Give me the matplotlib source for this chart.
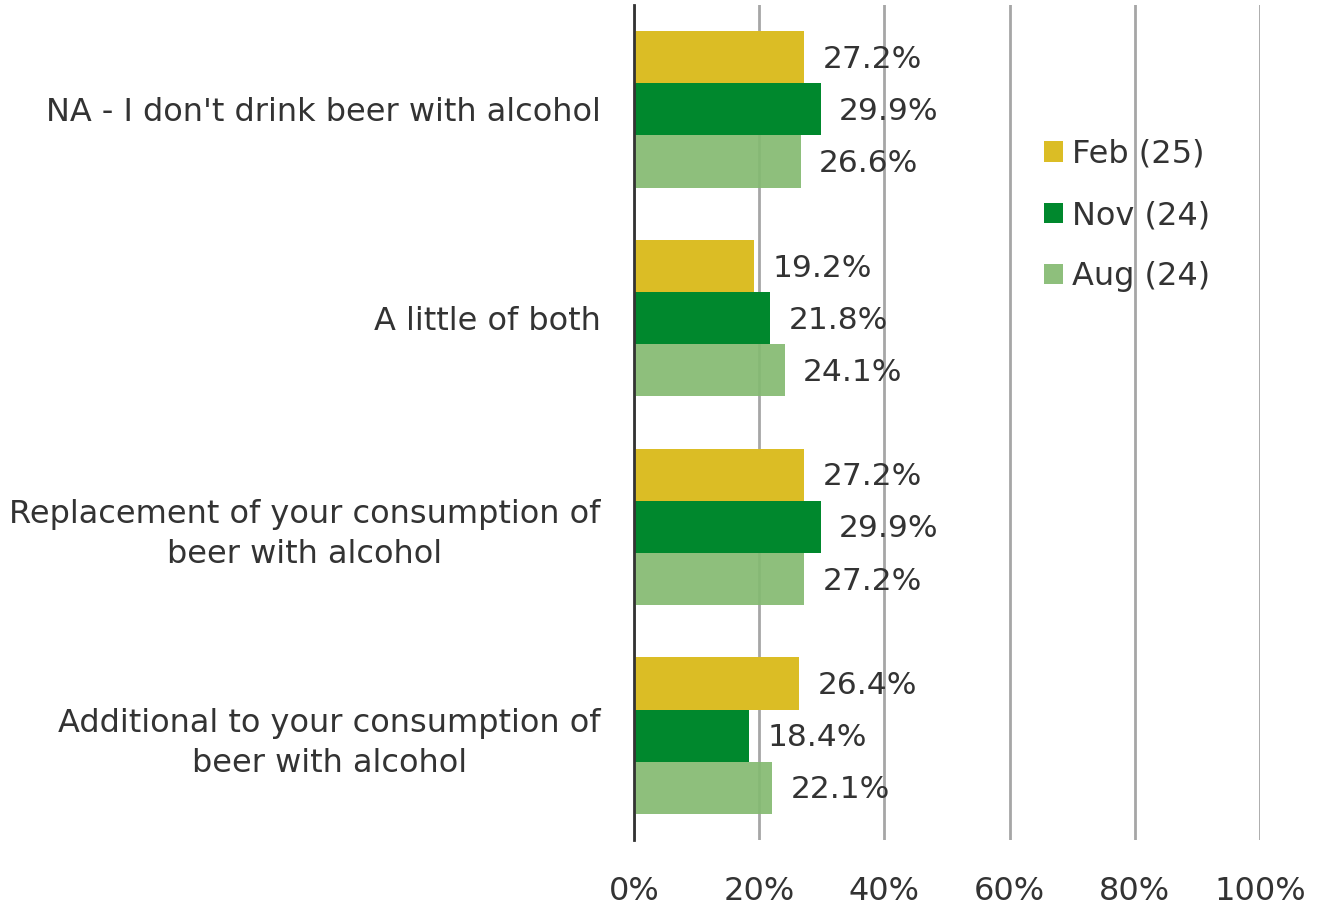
import matplotlib
matplotlib.use("Agg")
import matplotlib.pyplot as plt
import numpy as np

categories = ["NA - I don't drink beer with alcohol",
              "A little of both",
              "Replacement of your consumption of\nbeer with alcohol",
              "Additional to your consumption of\nbeer with alcohol"]
series_names = ["Feb (25)", "Nov (24)", "Aug (24)"]
feb = [27.2, 19.2, 27.2, 26.4]
nov = [29.9, 21.8, 29.9, 18.4]
aug = [26.6, 24.1, 27.2, 22.1]
xticks = [0, 20, 40, 60, 80, 100]
xtick_labels = ["0%", "20%", "40%", "60%", "80%", "100%"]

colors = ["#DBBD25", "#00882D", "#84BA71"]
alphas = [1.0, 1.0, 0.92]
text_color = "#333333"

plt.rcParams['font.family'] = ['DejaVu Sans']
fig = plt.figure(figsize=(13.21, 9.09), dpi=100)
ax = fig.add_axes([634/1321, 1-840/909, (1260-634)/1321, (840-5)/909])

n = len(categories)
y = np.arange(n)
h = 0.25
fs = 23
for i, (vals, c) in enumerate(zip([feb, nov, aug], colors)):
    ypos = y + (i - 1) * h
    ax.barh(ypos, vals, height=h, color=c, alpha=alphas[i], label=series_names[i], zorder=3)
    for yy, v in zip(ypos, vals):
        ax.annotate(f"{v:.1f}%", (v, yy), xytext=(13, -1.5), textcoords='offset points',
                    va='center', ha='left', fontsize=22.5, color=text_color, zorder=5)

ax.set_xlim(0, 100)
ax.set_ylim(n - 0.5, -0.5)
ax.set_yticks(y)
ax.set_yticklabels(categories, fontsize=fs, color=text_color, multialignment='center',
                   linespacing=1.35)
ax.set_xticks(xticks)
ax.set_xticklabels(xtick_labels, fontsize=fs, color=text_color)
ax.tick_params(axis='both', length=0)
ax.tick_params(axis='y', pad=24)
ax.tick_params(axis='x', pad=26)
ax.grid(axis='x', color='#A6A6A6', linewidth=2, zorder=1)
ax.set_axisbelow(True)
for s in ['top', 'right', 'bottom']:
    ax.spines[s].set_visible(False)
ax.spines['left'].set_color('#333333')
ax.spines['left'].set_linewidth(2)
ax.spines['left'].set_zorder(6)

leg = fig.legend(loc='upper left', bbox_to_anchor=(1015/1321, 1-110/909), frameon=False,
                 fontsize=fs, handlelength=0.6, handleheight=0.6, handletextpad=0.3,
                 labelspacing=0.95, labelcolor=text_color)

fig.savefig("out.png", dpi=100)
